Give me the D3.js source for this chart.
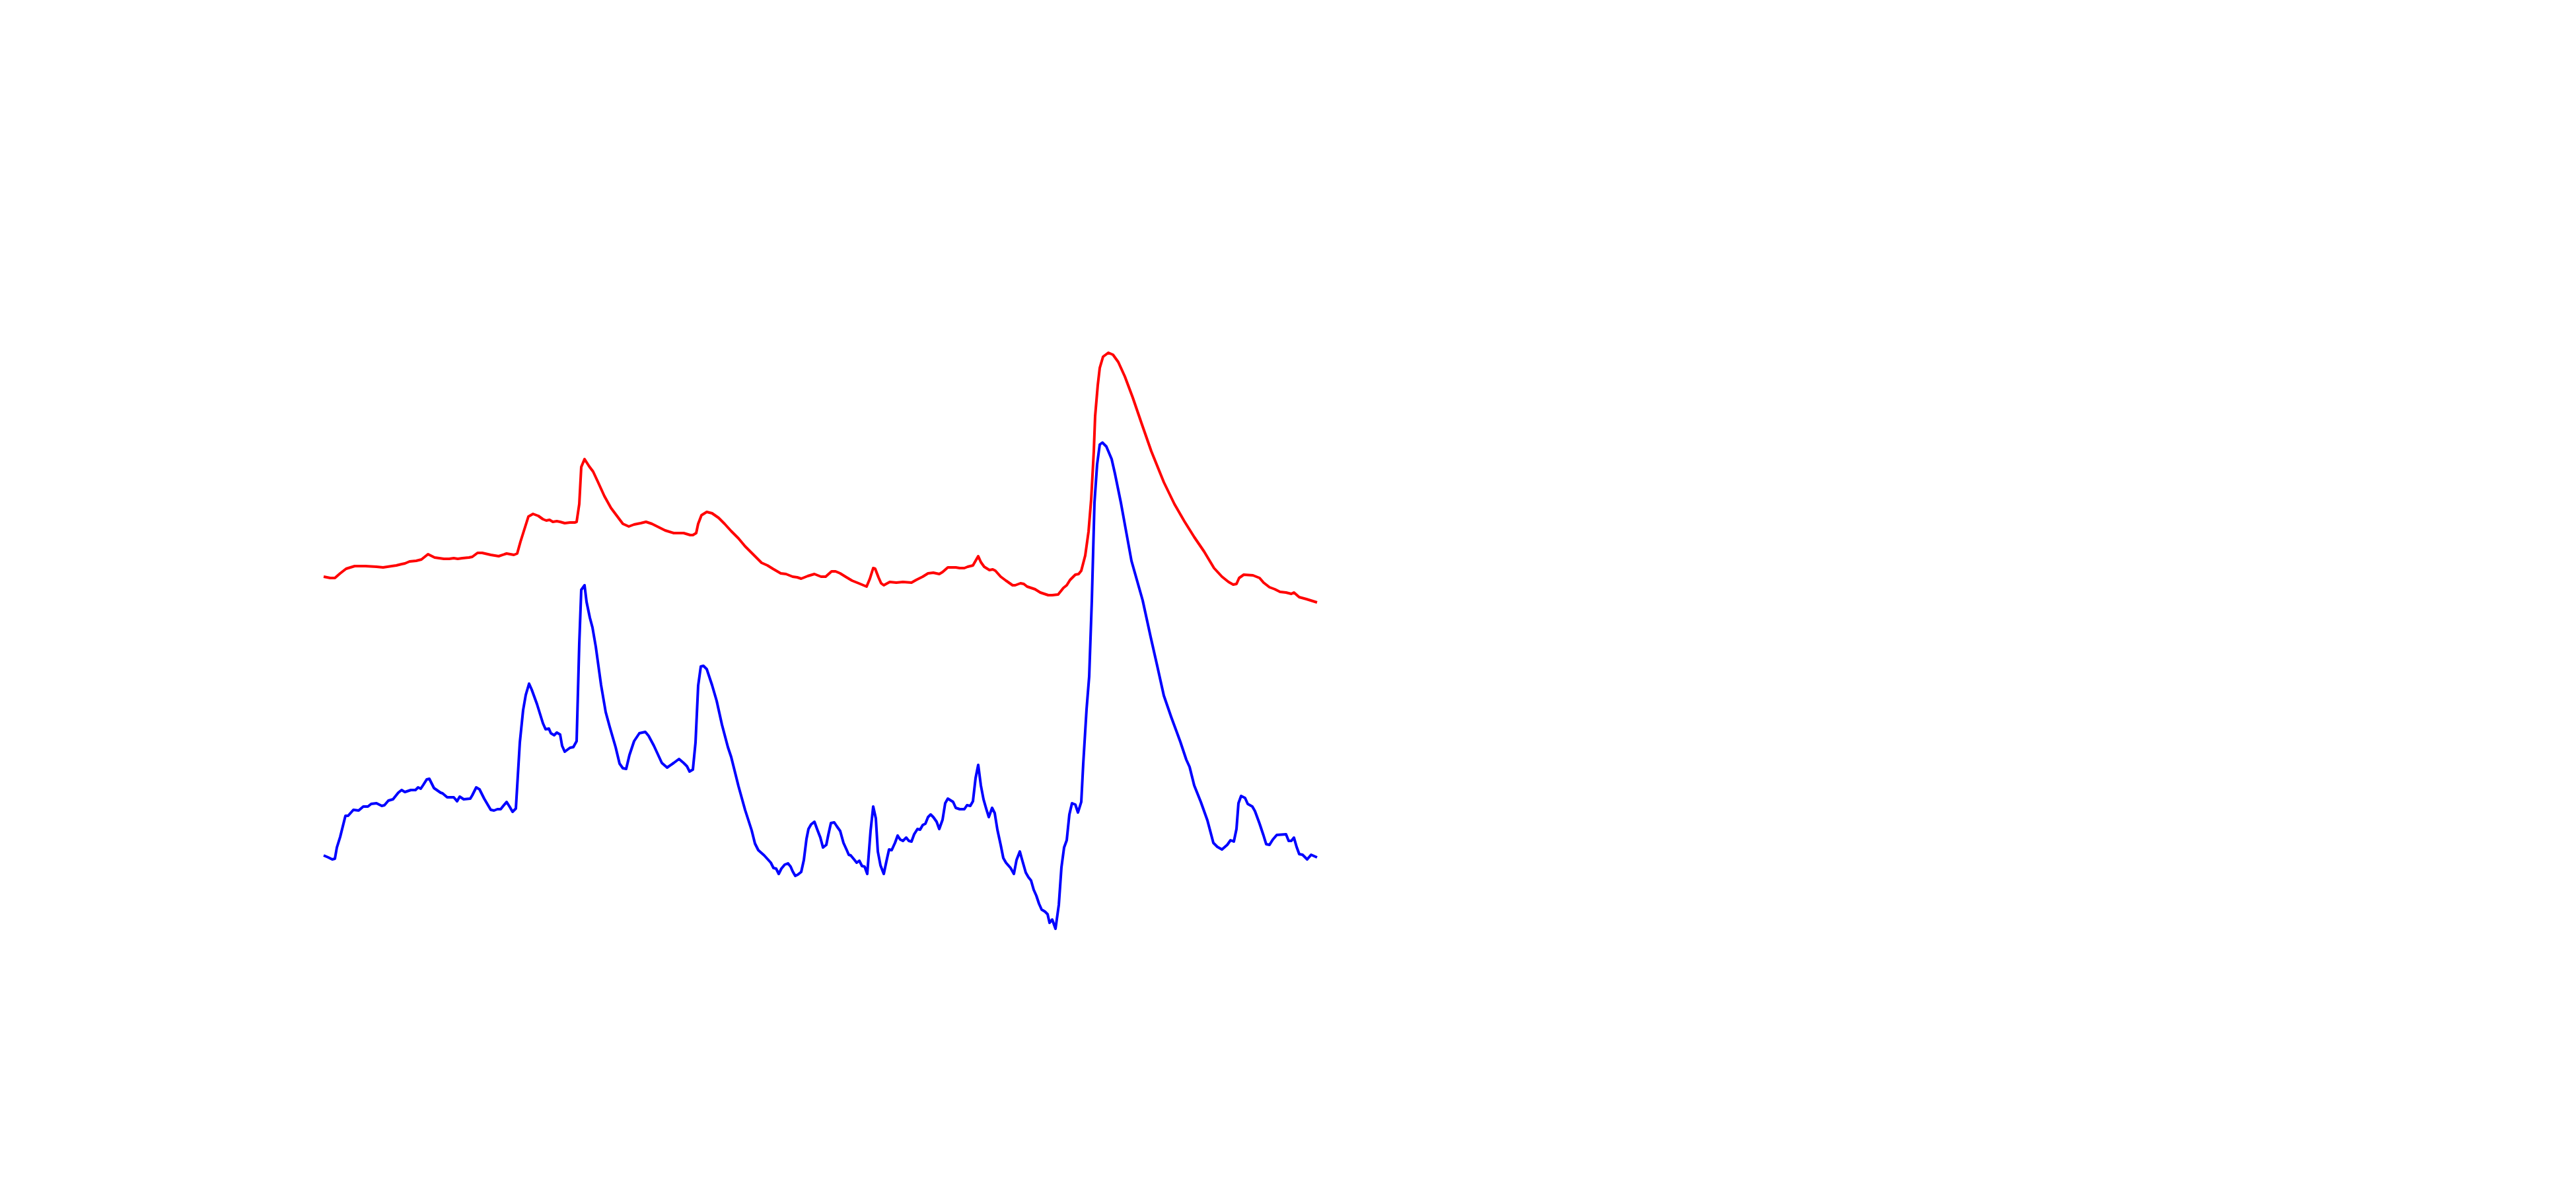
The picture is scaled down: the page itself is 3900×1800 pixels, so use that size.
<!DOCTYPE html>
<html>
<head>
<meta charset="utf-8">
<script src="https://cdn.jsdelivr.net/npm/d3@7"></script>
<style>
  html, body { margin: 0; padding: 0; background: #ffffff; }
  svg { display: block; }
</style>
</head>
<body>
<div id="chart"></div>
<script>
// Sample index (t) and amplitude (v)
const redSeries = [
  [0,627],[10,625],[17,625],[25,632],[34,639],[47,643],[63,643],[80,642],[90,641],[103,643],
  [110,644],[118,646],[123,647],[130,650],[140,651],[148,653],[158,661],[168,656],[182,654],[190,654],
  [197,655],[203,654],[210,655],[220,656],[225,657],[233,663],[240,663],[253,660],[265,658],[277,662],
  [288,660],[293,662],[298,680],[310,718],[317,722],[325,719],[332,714],[337,712],[342,713],[347,710],
  [353,711],[358,710],[365,708],[373,709],[380,709],[383,710],[387,737],[390,793],[395,805],[402,794],
  [408,786],[415,771],[425,749],[435,731],[447,715],[453,707],[462,703],[470,706],[480,708],[488,710],
  [497,707],[507,702],[517,697],[530,693],[545,693],[555,690],[559,690],[564,693],[567,707],[572,720],
  [580,725],[588,723],[598,716],[607,707],[617,696],[628,685],[638,673],[650,661],[663,648],[672,644],
  [680,639],[692,632],[700,631],[710,627],[717,626],[723,624],[733,628],[743,631],[753,627],[760,627],
  [769,635],[775,635],[782,632],[790,627],[800,621],[810,617],[822,612],[827,624],[832,640],[835,639],
  [840,626],[844,617],[848,614],[857,619],[867,618],[877,619],[890,618],[897,622],[907,627],[915,632],
  [923,633],[932,631],[937,634],[945,641],[957,641],[963,640],[970,640],[975,642],[983,644],[987,651],
  [991,658],[995,649],[1000,642],[1008,637],[1013,638],[1017,636],[1025,627],[1033,621],[1043,614],[1047,614],
  [1055,617],[1060,616],[1065,612],[1077,608],[1085,603],[1097,599],[1103,599],[1112,600],[1120,610],[1125,614],
  [1130,622],[1138,630],[1143,631],[1147,636],[1153,659],[1158,695],[1162,744],[1166,817],[1168,870],[1172,917],
  [1175,943],[1180,960],[1188,966],[1195,963],[1203,952],[1213,930],[1225,898],[1238,860],[1253,817],[1272,770],
  [1288,737],[1303,711],[1318,687],[1333,665],[1348,640],[1360,627],[1370,619],[1377,615],[1382,616],[1386,625],
  [1393,630],[1407,629],[1417,625],[1423,618],[1432,611],[1440,608],[1448,604],[1457,603],[1465,601],[1469,603],
  [1477,596],[1488,593],[1504,588]
];

const blueSeries = [
  [0,205],[7,202],[13,199],[17,200],[20,217],[25,233],[33,265],[37,265],[45,274],[53,273],
  [60,279],[67,279],[72,283],[80,284],[88,280],[92,281],[98,288],[105,290],[113,300],[118,304],
  [123,301],[132,304],[139,304],[143,308],[147,306],[151,312],[156,320],[160,321],[167,307],[177,300],
  [180,299],[187,293],[197,293],[202,287],[206,294],[212,290],[222,291],[225,296],[231,308],[236,305],
  [243,291],[253,274],[258,273],[263,275],[268,275],[272,280],[277,286],[282,278],[286,271],[291,276],
  [297,376],[302,425],[306,448],[311,465],[315,456],[323,434],[332,405],[336,396],[341,397],[344,390],
  [349,387],[353,391],[358,388],[361,371],[365,362],[373,368],[378,369],[383,378],[387,526],[390,607],
  [395,614],[398,589],[403,565],[407,550],[412,521],[420,463],[427,422],[433,400],[442,369],[448,344],
  [453,337],[458,336],[463,357],[470,378],[478,390],[487,392],[492,386],[500,371],[512,345],[520,338],
  [530,345],[538,351],[545,345],[550,340],[554,332],[559,335],[563,376],[567,462],[571,491],[575,492],
  [580,487],[588,463],[595,439],[603,403],[612,369],[617,354],[628,310],[638,274],[648,243],[653,223],
  [658,213],[667,205],[677,194],[681,186],[685,185],[689,177],[693,185],[698,191],[703,193],[707,188],
  [710,181],[714,174],[718,176],[723,180],[727,198],[731,230],[734,245],[738,252],[743,256],[747,245],
  [752,232],[756,217],[761,221],[764,236],[768,254],[773,255],[777,249],[782,242],[787,224],[792,213],
  [795,206],[798,205],[803,199],[807,194],[811,197],[815,189],[819,188],[823,177],[828,242],[832,279],
  [836,261],[839,211],[843,190],[848,177],[852,196],[856,214],[860,213],[865,224],[869,235],[873,229],
  [877,227],[882,232],[886,227],[890,226],[894,237],[899,245],[903,244],[907,251],[911,253],[915,263],
  [919,267],[923,263],[928,256],[932,245],[937,259],[941,284],[945,291],[953,286],[957,277],[963,275],
  [970,275],[974,281],[979,280],[983,287],[987,322],[991,342],[995,311],[999,290],[1003,276],[1007,263],
  [1012,277],[1016,269],[1020,244],[1025,221],[1029,201],[1033,194],[1040,186],[1045,177],[1049,198],[1054,211],
  [1057,200],[1063,179],[1067,172],[1071,167],[1075,153],[1079,144],[1083,132],[1087,123],[1092,120],[1096,116],
  [1099,103],[1103,108],[1108,94],[1113,130],[1117,187],[1121,217],[1125,228],[1129,267],[1133,284],[1138,282],
  [1142,270],[1147,286],[1150,344],[1155,426],[1159,476],[1163,591],[1167,739],[1171,797],[1175,827],[1179,830],
  [1185,824],[1193,805],[1198,783],[1207,739],[1215,695],[1223,651],[1240,591],[1252,536],[1262,492],[1272,447],
  [1283,415],[1297,377],[1306,350],[1311,339],[1318,311],[1328,286],[1338,258],[1347,224],[1353,218],[1360,214],
  [1368,221],[1373,228],[1378,226],[1382,245],[1385,284],[1389,295],[1395,292],[1399,283],[1406,279],[1410,272],
  [1417,253],[1423,235],[1427,222],[1432,221],[1437,229],[1443,236],[1457,237],[1461,227],[1465,227],[1469,232],
  [1473,218],[1477,207],[1482,206],[1489,199],[1495,206],[1504,202]
];

const seriesNames = ["red", "blue"];
const seriesColors = ["#ff0000", "#0000ff"];

const W = 3900, H = 1800;
const svg = d3.select("#chart").append("svg")
  .attr("width", W).attr("height", H)
  .attr("viewBox", `0 0 ${W} ${H}`);

const x = d3.scaleLinear().domain([0, 1504]).range([490, 1994]);
const y = d3.scaleLinear().domain([0, 1000]).range([1500, 500]);

const line = d3.line().x(d => x(d[0])).y(d => y(d[1]));

const allSeries = [redSeries, blueSeries];
svg.selectAll("path.series")
  .data(allSeries)
  .join("path")
  .attr("class", (d, i) => "series " + seriesNames[i])
  .attr("d", line)
  .attr("fill", "none")
  .attr("stroke", (d, i) => seriesColors[i])
  .attr("stroke-width", 4)
  .attr("stroke-linejoin", "round")
  .attr("stroke-linecap", "butt");
</script>
</body>
</html>
